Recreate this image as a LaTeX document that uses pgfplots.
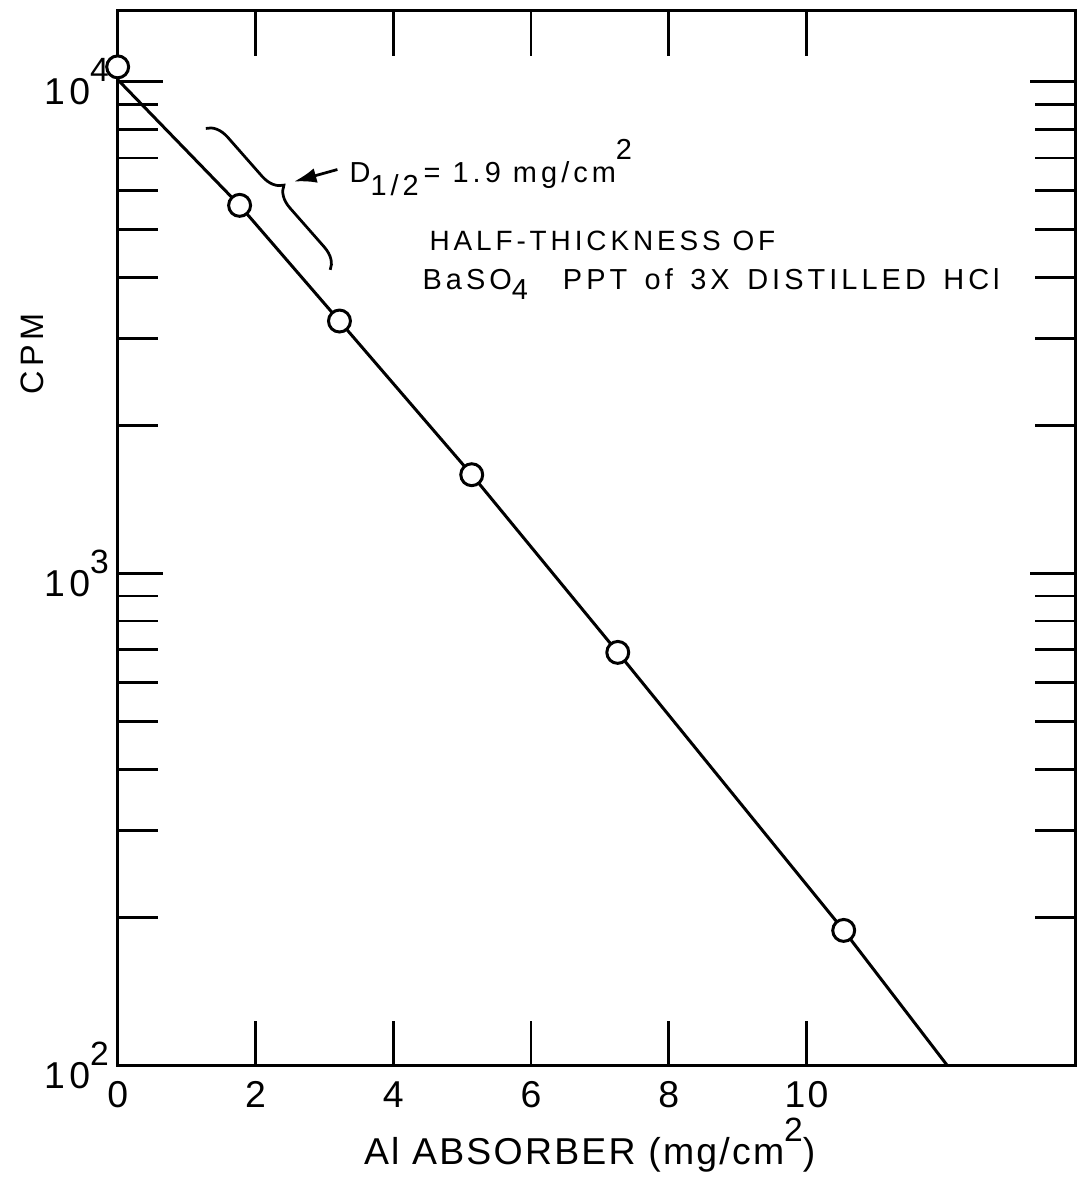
\documentclass[border=0pt]{standalone}
\usepackage{fontspec}
\setmainfont{Liberation Sans}[LetterSpace=14]
\usepackage{pgfplots}
\pgfplotsset{compat=1.18}
\usetikzlibrary{decorations.pathreplacing,arrows.meta}
\newcommand{\sups}[1]{\raisebox{0.62em}{\scalebox{0.9}{#1}}}
\newcommand{\lab}{\fontsize{15}{17}\selectfont\addfontfeature{LetterSpace=6}}
\begin{document}
\begin{tikzpicture}
\begin{axis}[
  scale only axis, width=384pt, height=422.8pt,
  ymode=log, xmin=0, xmax=13.9, ymin=100, ymax=13930,
  clip=false,
  axis line style={line width=1.2pt},
  every tick/.style={line width=1.1pt, black},
  major tick length=18pt, minor tick length=16pt,
  tick align=inside,
  xtick={0,2,4,6,8,10},
  xticklabels={0,2,4,6,8,10},
  ytick={100,1000,10000},
  yticklabels={10\sups{2},10\sups{3},10\sups{4}},
  ticklabel style={font=\lab},
  yticklabel style={font=\fontsize{15}{17}\selectfont\addfontfeature{LetterSpace=12}},
  xticklabel style={yshift=-3pt},
  xlabel={Al ABSORBER (mg/cm\sups{2})},
  xlabel style={at={(rel axis cs:0.493,-0.0946)}, anchor=base, font=\lab},
]
\addplot[line width=1.2pt, black] coordinates {
 (0,10100) (1.77,5605) (3.22,3261) (5.14,1588) (7.26,691) (10.54,188) (12.04,100)};
\addplot[only marks, mark=*, mark size=4.4pt,
  mark options={fill=white, draw=black, line width=1.2pt}] coordinates {
 (0,10720) (1.77,5605) (3.22,3261) (5.14,1588) (7.26,691) (10.54,188)};
% annotation
\draw[line width=1.1pt, decorate, decoration={brace, amplitude=8.5pt}]
  (axis cs:1.28,8035) -- (axis cs:3.09,4138);
\draw[line width=1.1pt, -{Latex[length=9pt,width=6pt]}]
  (axis cs:3.19,6629) -- (axis cs:2.56,6266);
\node[anchor=base west, inner sep=0pt, font=\fontsize{11.6}{13}\selectfont]
  at (axis cs:3.36,6238) {D\raisebox{-0.45em}{1/2}\,= 1.9 mg/cm\raisebox{0.8em}{2}};
\node[anchor=base west, inner sep=0pt, font=\fontsize{11.2}{13}\selectfont]
  at (axis cs:4.52,4541) {HALF-THICKNESS OF};
\node[anchor=base west, inner sep=0pt, font=\fontsize{11.6}{13}\selectfont]
  at (axis cs:4.42,3784) {BaSO\raisebox{-0.35em}{4}\hspace{14pt}PPT\hspace{7pt}of\hspace{7pt}3X\hspace{7pt}DISTILLED\hspace{7pt}HCl};
\node[rotate=90, font=\fontsize{13}{15}\selectfont] at (rel axis cs:-0.0896,0.6746) {CPM};
% page extent
\path (rel axis cs:-0.1229,-0.1069) -- (rel axis cs:1.0052,1.0104);
\end{axis}
\end{tikzpicture}
\end{document}
